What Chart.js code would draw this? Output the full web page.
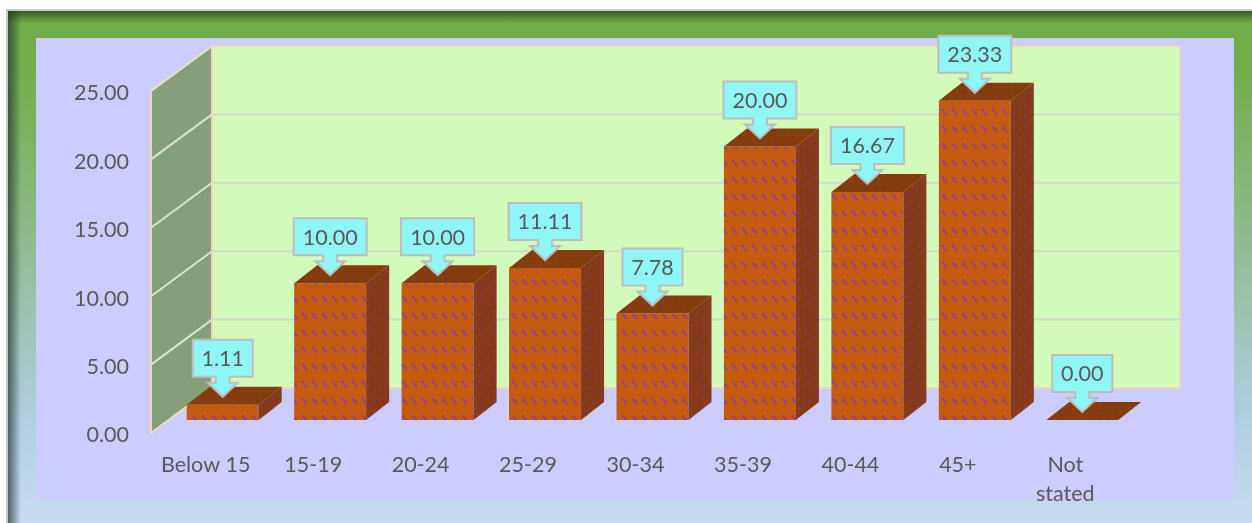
<!DOCTYPE html>
<html>
<head>
<meta charset="utf-8">
<script src="https://cdn.jsdelivr.net/npm/chart.js@4"></script>
<style>
    html, body { margin: 0; padding: 0; background: #fff; width: 1252px; height: 523px; overflow: hidden; }
    #frame {
        position: absolute; left: 6px; top: 9px; width: 1246px; height: 514px; box-sizing: border-box;
        border-left: 2px solid #c8c8c8; border-top: 2px solid #c8c8c8;
        background: linear-gradient(180deg, #70ad47 0%, #72ae4c 12%, #8fbb90 45%, #b2d0e8 82%, #c6dbef 100%);
    }
    #shade {
        position: absolute; left: 8px; top: 11px; width: 1244px; height: 512px;
        background:
            linear-gradient(180deg, rgba(38,60,20,.75) 0, rgba(38,60,20,0) 12px),
            linear-gradient(90deg, rgba(30,50,40,.7) 0, rgba(30,50,40,0) 13px);
    }
    #panel { position: absolute; left: 36px; top: 38px; width: 1198px; height: 462px; background: #ccccff; }
    canvas { position: absolute; left: 0; top: 0; }
</style>
</head>
<body>
<div id="frame"></div>
<div id="shade"></div>
<div id="panel"></div>
<canvas id="barChart" width="1252" height="523"></canvas>
<script>
const categories = ['Below 15', '15-19', '20-24', '25-29', '30-34', '35-39', '40-44', '45+', ['Not', 'stated']];
const shareValues = [1.11, 10.00, 10.00, 11.11, 7.78, 20.00, 16.67, 23.33, 0.00];
const yTicks = [0, 5, 10, 15, 20, 25];

const textColor = '#595959';
const fontName = 'Lato, Carlito, sans-serif';
const fontSize = 21.5;

// 3d look: wall depth and bar depth
const wallDx = 61, wallDy = 45;
const barDx = 23, barDy = 18;
const barLift = 13;   // bars stand a bit in front of the axis line

// brick like hatch, one tile per bar face
function makeHatch(w, h, base, dash, thick, x0, y0, x1, y1) {
    const tile = document.createElement('canvas');
    tile.width = w;
    tile.height = h;
    const c = tile.getContext('2d');
    c.fillStyle = base;
    c.fillRect(0, 0, w, h);
    c.strokeStyle = dash;
    c.lineWidth = thick;
    c.beginPath();
    c.moveTo(x0, y0);
    c.lineTo(x1, y1);
    c.stroke();
    return c.createPattern(tile, 'repeat');
}
const ctx = document.getElementById('barChart').getContext('2d');
const frontHatch = makeHatch(10, 17, '#c55a11', '#93408c', 2, 2, 3, 7, 9);
const sideHatch = makeHatch(6, 10, '#843c0c', '#8a3570', 1.8, 1, 8, 4, 3);
const topHatch = makeHatch(9, 6, '#873e0d', '#7f3522', 1.2, 1, 1, 6, 4);

const wallPlugin = {
    id: 'walls',
    beforeDatasetsDraw(chart) {
        const c = chart.ctx, y = chart.scales.y;
        const x0 = chart.chartArea.left - 18;
        const x1 = x0 + wallDx;
        const xEnd = 1180;
        const bottom = y.getPixelForValue(0), top = y.getPixelForValue(25);

        c.save();
        // back wall
        c.fillStyle = '#d2fbbb';
        c.strokeStyle = '#f2d3bb';
        c.lineWidth = 2;
        c.beginPath();
        c.rect(x1, top - wallDy, xEnd - x1, bottom - top);
        c.fill();
        c.stroke();
        // left wall
        c.fillStyle = '#859f7b';
        c.beginPath();
        c.moveTo(x0, bottom);
        c.lineTo(x0, top);
        c.lineTo(x1, top - wallDy);
        c.lineTo(x1, bottom - wallDy);
        c.closePath();
        c.fill();
        c.stroke();
        // grid lines
        c.lineWidth = 2;
        yTicks.forEach(v => {
            if (v === 0 || v === 25) return;
            const py = y.getPixelForValue(v);
            c.strokeStyle = '#dfe3cf';
            c.beginPath();
            c.moveTo(x0, py);
            c.lineTo(x1, py - wallDy);
            c.stroke();
            c.strokeStyle = '#d0dac4';
            c.beginPath();
            c.moveTo(x1, py - wallDy);
            c.lineTo(xEnd, py - wallDy);
            c.stroke();
        });
        c.strokeStyle = '#e2e0c4';
        c.beginPath();
        c.moveTo(x0, top);
        c.lineTo(x1, top - wallDy);
        c.moveTo(x0, bottom);
        c.lineTo(x1, bottom - wallDy);
        c.stroke();
        c.restore();

        // bars are moved up, undone in afterDatasetsDraw
        c.save();
        c.translate(0, -barLift);
    },
    afterDatasetsDraw(chart) {
        const c = chart.ctx;
        const bars = chart.getDatasetMeta(0).data;
        bars.forEach(bar => {
            const left = bar.x - bar.width / 2, right = bar.x + bar.width / 2;
            const top = bar.y, base = bar.base;

            // top face
            c.save();
            c.transform(1, 0, -barDx / barDy, 1, left + barDx, top - barDy);
            c.fillStyle = topHatch;
            c.fillRect(0, 0, bar.width, barDy);
            c.restore();
            // side face
            if (base - top > 0.5) {
                c.save();
                c.transform(1, -barDy / barDx, 0, 1, right, top);
                c.fillStyle = sideHatch;
                c.fillRect(0, 0, barDx, base - top);
                c.restore();
            }
        });
        c.restore();

        // callouts
        bars.forEach((bar, i) => {
            const text = shareValues[i].toFixed(2);
            const tipY = bar.y - barLift - barDy / 2 + 1;
            const cx = bar.x;
            c.save();
            c.font = fontSize + 'px ' + fontName;
            const boxW = Math.round(c.measureText(text).width) + 18;
            const boxH = 37;
            const boxBottom = tipY - 20;
            c.fillStyle = '#8ff5f5';
            c.strokeStyle = '#bdbdbd';
            c.lineWidth = 2;
            c.beginPath();
            c.moveTo(cx - boxW / 2, boxBottom - boxH);
            c.lineTo(cx + boxW / 2, boxBottom - boxH);
            c.lineTo(cx + boxW / 2, boxBottom);
            c.lineTo(cx + 7, boxBottom);
            c.lineTo(cx + 7, boxBottom + 6);
            c.lineTo(cx + 15, boxBottom + 6);
            c.lineTo(cx, tipY);
            c.lineTo(cx - 15, boxBottom + 6);
            c.lineTo(cx - 7, boxBottom + 6);
            c.lineTo(cx - 7, boxBottom);
            c.lineTo(cx - boxW / 2, boxBottom);
            c.closePath();
            c.fill();
            c.stroke();
            c.fillStyle = textColor;
            c.textAlign = 'center';
            c.textBaseline = 'middle';
            c.fillText(text, cx, boxBottom - boxH / 2 + 1);
            c.restore();
        });
    }
};

new Chart(ctx, {
    type: 'bar',
    plugins: [wallPlugin],
    data: {
        labels: categories,
        datasets: [{
            data: shareValues,
            backgroundColor: frontHatch,
            borderWidth: 0,
            categoryPercentage: 1,
            barPercentage: 0.67,
            clip: false
        }]
    },
    options: {
        responsive: false,
        animation: false,
        layout: { padding: { left: 39, right: 116, top: 91, bottom: 0 } },
        plugins: {
            legend: { display: false },
            tooltip: { enabled: false }
        },
        scales: {
            x: {
                grid: { display: false, drawTicks: false },
                border: { display: false },
                afterFit(scale) { scale.height = 90; },
                ticks: {
                    color: textColor,
                    font: { family: fontName, size: fontSize, lineHeight: 1.35 },
                    padding: 18,
                    labelOffset: -17,
                    autoSkip: false,
                    maxRotation: 0
                }
            },
            y: {
                min: 0,
                max: 25,
                grid: { display: false, drawTicks: false },
                border: { display: false },
                afterFit(scale) { scale.width = 130; },
                ticks: {
                    color: textColor,
                    font: { family: fontName, size: fontSize },
                    padding: 40,
                    labelOffset: 2.5,
                    stepSize: 5,
                    callback: value => value.toFixed(2)
                }
            }
        }
    }
});
</script>
</body>
</html>
